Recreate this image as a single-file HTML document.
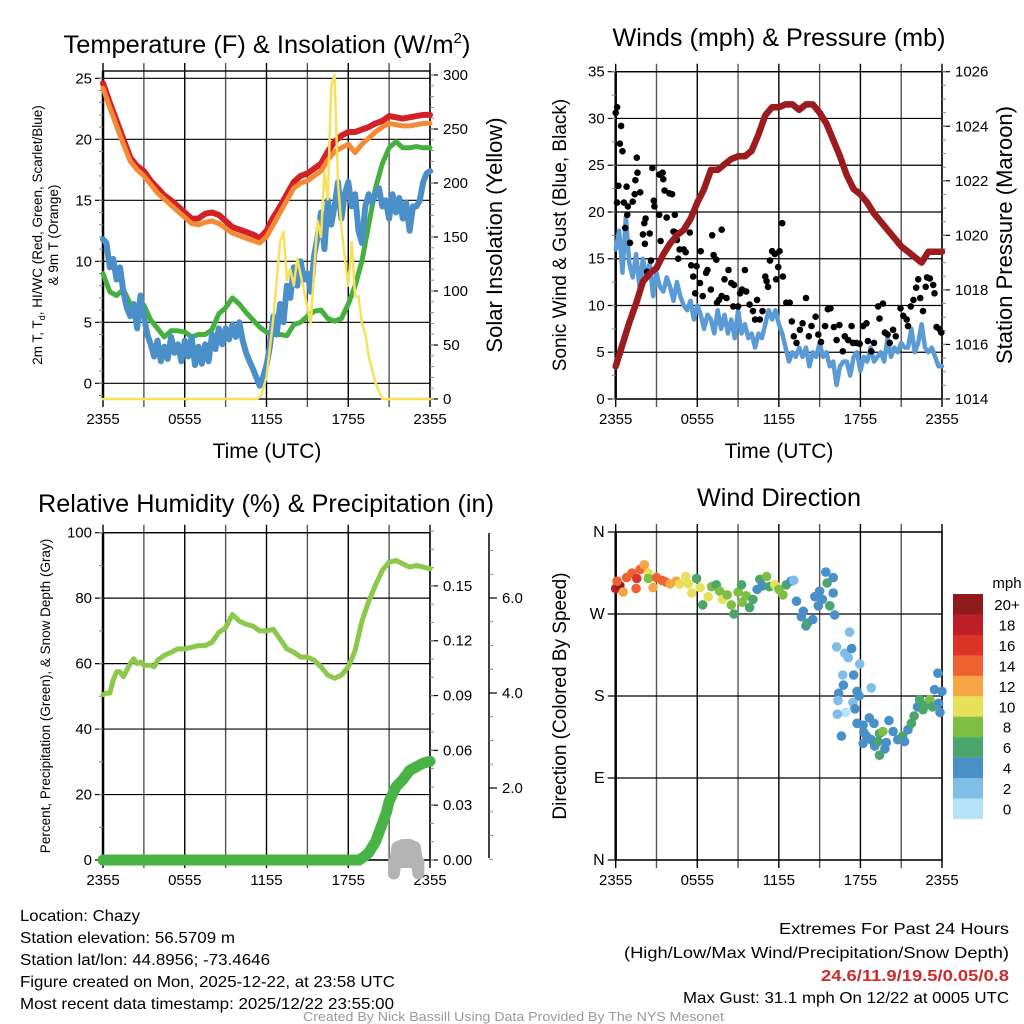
<!DOCTYPE html>
<html><head><meta charset="utf-8"><style>
html,body{margin:0;padding:0;background:#fff;}
svg{display:block;font-family:"Liberation Sans",sans-serif;}
</style></head><body>
<svg id="s" width="1024" height="1024" viewBox="0 0 1024 1024" xmlns="http://www.w3.org/2000/svg">
<g id="g"></g>
<text x="267" y="53" font-size="25" text-anchor="middle" textLength="407" lengthAdjust="spacingAndGlyphs">Temperature (F) &amp; Insolation (W/m<tspan font-size="15" dy="-10">2</tspan><tspan dy="10">)</tspan></text>
<text x="779" y="46" font-size="25" text-anchor="middle" textLength="333" lengthAdjust="spacingAndGlyphs">Winds (mph) &amp; Pressure (mb)</text>
<text x="266" y="512" font-size="25" text-anchor="middle" textLength="456" lengthAdjust="spacingAndGlyphs">Relative Humidity (%) &amp; Precipitation (in)</text>
<text x="779" y="506" font-size="25" text-anchor="middle" textLength="164" lengthAdjust="spacingAndGlyphs">Wind Direction</text>
<text x="267" y="458" font-size="21" text-anchor="middle">Time (UTC)</text>
<text x="779" y="458" font-size="21" text-anchor="middle">Time (UTC)</text>
<text transform="translate(42,235) rotate(-90)" font-size="13.5" text-anchor="middle">2m T, T<tspan font-size="9" dy="3">d</tspan><tspan dy="-3">, HI/WC (Red, Green, Scarlet/Blue)</tspan></text>
<text transform="translate(58,235) rotate(-90)" font-size="13.5" text-anchor="middle">&amp; 9m T (Orange)</text>
<text transform="translate(502,235) rotate(-90)" font-size="22" text-anchor="middle">Solar Insolation (Yellow)</text>
<text transform="translate(566,235) rotate(-90)" font-size="19" text-anchor="middle">Sonic Wind &amp; Gust (Blue, Black)</text>
<text transform="translate(1012,235) rotate(-90)" font-size="22" text-anchor="middle">Station Pressure (Maroon)</text>
<text transform="translate(50,696) rotate(-90)" font-size="13.5" text-anchor="middle">Percent, Precipitation (Green), &amp; Snow Depth (Gray)</text>
<text transform="translate(566,696) rotate(-90)" font-size="19" text-anchor="middle">Direction (Colored By Speed)</text>
<g font-size="16">
<text x="20" y="921" textLength="120" lengthAdjust="spacingAndGlyphs">Location: Chazy</text>
<text x="20" y="943" textLength="215" lengthAdjust="spacingAndGlyphs">Station elevation: 56.5709 m</text>
<text x="20" y="965" textLength="250" lengthAdjust="spacingAndGlyphs">Station lat/lon: 44.8956; -73.4646</text>
<text x="20" y="987" textLength="375" lengthAdjust="spacingAndGlyphs">Figure created on Mon, 2025-12-22, at 23:58 UTC</text>
<text x="20" y="1009" textLength="374" lengthAdjust="spacingAndGlyphs">Most recent data timestamp: 2025/12/22 23:55:00</text>
</g>
<g font-size="16">
<text x="779" y="934" textLength="230" lengthAdjust="spacingAndGlyphs">Extremes For Past 24 Hours</text>
<text x="624" y="958" textLength="385" lengthAdjust="spacingAndGlyphs">(High/Low/Max Wind/Precipitation/Snow Depth)</text>
<text x="821" y="981" font-weight="bold" fill="#d02a2a" textLength="188" lengthAdjust="spacingAndGlyphs">24.6/11.9/19.5/0.05/0.8</text>
<text x="683" y="1003" textLength="326" lengthAdjust="spacingAndGlyphs">Max Gust: 31.1 mph On 12/22 at 0005 UTC</text>
</g>
<text x="303" y="1021" font-size="12.5" fill="#999" textLength="421" lengthAdjust="spacingAndGlyphs">Created By Nick Bassill Using Data Provided By The NYS Mesonet</text>
</svg>
<script>
// ---------- data ----------
const xTickLabels=["2355","0555","1155","1755","2355"];
const tempT=[0,0.5,1,1.5,2,2.5,3,3.5,4,4.5,5,5.5,6,6.5,7,7.5,8,8.5,9,9.5,10,10.5,11,11.5,12,12.5,13,13.5,14,14.5,15,15.5,16,16.5,17,17.5,18,18.5,19,19.5,20,20.5,21,21.5,22,22.5,23,23.5,24];
const tempRed=[24.6,23,21.5,20,18.5,17.8,17.4,16.6,16,15.4,15,14.5,14,13.5,13.5,13.9,14,13.8,13.3,12.8,12.6,12.4,12.2,11.9,12.5,13.6,14.5,15.5,16.5,17,17.2,17.6,18,19,19.8,20.3,20.6,20.6,20.8,21,21.3,21.5,21.9,21.8,21.7,21.8,21.9,22.0,22];
const temp9m=[24.2,22.6,21.1,19.6,18.2,17.5,17.0,16.3,15.6,15.1,14.6,14.1,13.6,13.1,13.0,13.2,13.3,13.1,12.7,12.3,12.1,11.9,11.7,11.5,12.0,13.0,14.0,15.0,16.0,16.4,16.6,17.0,17.4,18.3,19.0,19.3,19.6,18.9,19.6,20.1,20.6,21.0,21.3,21.2,21.1,21.1,21.2,21.3,21.3];
const dewpoint=[9,7.5,7.2,7.7,6.5,5.8,6.4,5.2,4.5,3.8,4.3,4.3,4.2,3.8,4.0,4.0,4.4,5.7,6.2,7.0,6.5,5.8,5.2,4.6,4.2,4.0,4.0,3.9,4.8,5.0,5.5,5.9,6.0,5.3,5.1,5.3,6.5,8.0,10,13,16,18,19.3,19.8,19.3,19.3,19.4,19.3,19.3];
const windChill=[11.8,11.5,9.5,10.2,8.5,9.5,7.5,6.2,5.5,6.5,4.5,7.2,5.5,4.0,3.2,2.2,3.5,1.8,3.0,2.0,3.8,2.5,3.2,1.8,3.5,2.2,3.8,1.5,3.0,1.6,3.2,1.8,4.0,2.8,4.5,3.2,4.5,3.6,4.8,3.8,5.0,3.5,2.5,1.8,1.2,0.5,-0.2,0.5,1.5,3.0,5.5,4.0,6.5,5.0,8.0,7.0,9.5,8.0,10,8.5,9.0,7.5,10.5,12.0,14,11,15,13,14.5,16.5,13.5,15.5,16.5,14.5,15.5,12.5,11.5,14.5,15.5,14.8,15.5,16.0,14.5,15.0,13.5,15.5,14.0,15.2,13.5,14.8,12.5,14.5,14.5,15.0,16.5,17.2,17.4];
const solarT=[0,11.3,11.6,12,12.5,13,13.25,13.5,13.75,14,14.25,14.5,15,15.25,15.5,15.75,16,16.25,16.5,16.75,17,17.25,17.5,17.75,18,18.25,18.5,18.75,19,19.25,19.5,20,20.5,24];
const solarV=[0,0,3,20,75,145,155,110,120,105,130,115,85,70,120,165,150,210,185,290,300,200,160,130,105,145,95,95,70,60,40,15,0,0];
const pressure=[1015.2,1016,1016.8,1017.5,1018.3,1018.6,1018.8,1019.3,1019.7,1020,1020.2,1020.6,1021.2,1021.7,1022.4,1022.4,1022.6,1022.8,1022.9,1022.9,1023.1,1023.7,1024.4,1024.7,1024.7,1024.8,1024.8,1024.6,1024.8,1024.8,1024.5,1024.1,1023.5,1022.9,1022.2,1021.7,1021.5,1021.2,1020.8,1020.5,1020.2,1019.9,1019.6,1019.4,1019.2,1019,1019.4,1019.4,1019.4];
const windSpeed=[16,18,13.5,19.5,14.5,13,15.5,12,15,13,14.5,11,13.5,12,11.5,13,12,10.5,12.5,11,10,9.5,10.5,8.5,10,9,7.5,9,8.5,7,9.5,7.5,9,7,8.5,6.5,9.5,7,8,6.5,7,5.5,7,6.5,8,9.5,8.5,9.5,8,7,5.5,4,5,4.5,5.5,4.5,5.5,3.5,5,4.5,6,4.5,5,3.5,4,1.5,3.5,4,4,2.5,4.5,5,3,4.5,4,5.5,4,4.5,5,4,6.5,4.5,5.5,5,6,5.5,5.5,7.5,5,6,8,5.5,5,5.5,4.5,3.5,3.5];
const gustT=[0,0.1,0.4,0.3,0.5,0.2,0.1,0.6,0.8,0.9,0.85,0.7,1.05,1.25,1.4,1.55,1.6,1.45,1.8,2.1,2.2,2.0,2.15,2.5,2.6,2.3,2.7,2.8,2.85,3.2,3.2,3.45,3.5,3.6,3.95,4.15,4.35,3.75,3.3,4.25,4.4,4.5,4.7,5.0,4.6,5.15,5.45,5.55,5.85,5.7,5.95,6.25,6.2,6.4,6.65,6.75,7,7.1,7.2,7.4,7.45,7.8,7.6,7.8,8.0,8.15,8.3,8.5,8.65,8.7,9.0,9.15,9.3,9.5,9.6,9.85,10.1,10.25,10.4,10.6,10.8,11,11.1,11.2,11.35,11.5,11.7,11.8,11.95,12.05,12.25,12.3,12.55,12.8,12.95,13.1,13.3,13.55,13.75,14,14.2,14.4,14.7,14.9,15.1,15.4,15.6,15.8,16.05,16.25,16.45,16.7,16.85,17.1,17.35,17.45,17.7,17.95,18.2,18.45,18.55,18.8,19,19.3,19.4,19.65,19.8,20,20.15,20.4,20.6,20.95,21.15,21.4,21.5,21.7,21.9,22.1,22.25,22.4,22.6,22.8,22.9,23.1,23.35,23.45,23.6,23.8,23.95];
const gustV=[30.6,31.2,29.2,27.3,26.5,22.8,21,21,22.7,20.6,19.7,18.3,16.7,21.1,21.9,25.8,24.2,23.4,22.1,18.8,19.3,17.6,16.6,17.7,14.8,13.6,24.7,21.2,20.6,19.7,24,24.2,23.5,22.3,22,21.9,19.7,19.4,16.9,17.9,17.8,17,16,16,15,15.7,17.8,14.3,11.3,13.1,14.2,15.8,12.4,11,13.5,13.8,11.7,17.5,15.4,14.9,10.3,18.1,10.6,11,12.8,10.8,13.8,12.4,9.9,12.2,9.9,11.3,11.7,13.8,11.5,10.1,9.4,8.5,10.6,8.5,9.4,13.1,12.6,12,14.8,15.8,15.5,12.8,14.1,15.8,18.8,13.1,10.3,10.3,8.3,6.7,6,7.4,8.1,10.8,6.7,7.8,8.8,6.9,6.1,7.8,9.6,9.7,7.7,6.3,7.9,5.1,6.7,6.3,7.8,6,6,5.9,7.8,8.1,6.2,5.1,6,9.9,8.6,10.2,7.1,6.9,6,7.4,6.7,9.7,8.9,8.5,7.8,9.9,10.6,11.9,12.8,10.8,9.4,12,13,12.9,12.2,11.3,7.7,7.5,7.1];
const rhT=[0,0.25,0.5,0.75,1,1.25,1.5,1.75,2,2.25,2.5,2.75,3,3.5,3.75,4,4.5,5,5.5,6,6.5,7,7.5,8,8.5,9,9.5,10,10.5,11,11.5,12,12.5,13,13.5,14,14.5,15,15.5,16,16.5,17,17.5,18,18.5,19,19.5,20,20.5,21,21.5,22,22.5,23,23.5,24];
const rhV=[50.5,51,51,55,57.5,57.5,56,58,60,61.5,60,60.5,59.5,59.5,59,61,62.5,63.5,64.5,64.5,65,65.5,65.5,66.5,69.5,71,75,73,72,71.5,70,70,70.5,67.5,64.5,63.5,62,62,61,59,56.5,55.5,56.5,59,64,73,79,84,88.5,91,91.5,90.5,89.5,90,89.5,89];
const precipT=[0,18.8,19.2,19.5,20,20.5,20.8,21,21.5,22,22.5,23,23.5,24];
const precipV=[0,0,0.002,0.004,0.01,0.02,0.026,0.032,0.04,0.044,0.049,0.051,0.053,0.054];
const snowT=[21.35,21.6,22.0,22.5,22.9,23.15];
const snowV=[0.2,0.75,0.8,0.8,0.75,0.2];
const dirT=[0,0.3,0.1,0.55,0.8,1.2,1.55,1.5,1.8,2.1,2.4,2.4,2.75,3,3.4,3.7,4.0,4.45,4.7,5.15,5.35,5.6,5.95,6.2,6.4,6.8,7.05,7.4,7.65,7.85,8.2,8.5,8.7,9,9.25,9.3,9.6,9.85,10.1,10.4,10.6,10.8,11.1,11.3,11.7,12.0,12.3,12.55,12.9,13.1,13.3,13.8,13.65,14,14.1,14.5,14.65,14.9,15,15.2,15.45,15.55,15.75,16,16,16.1,16.25,16.85,17.2,17.1,17.35,17.95,16.7,17.5,16.75,16.4,16.35,17.75,17.45,17.9,18.8,16.9,16.3,17.6,17.75,18.2,18.65,19,16.6,18.25,18.45,18.8,18.2,19.05,19.4,19.65,19.3,19.4,19.8,19.9,20.1,20.4,20.75,21.1,21.25,21.5,21.75,21.95,22.2,22.35,22.6,22.8,23.1,23.3,23.45,23.7,23.85,24,23.75];
const dirV=[298,301,306,294,310,315,309,298,319,324,315,309,299,310,307,305,303,306,303,311,303,293,309,299,280,289,300,302,295,286,291,280,270,294,302,283,290,277,286,297,308,301,311,300,302,297,291,302,306,307,284,273,267,257,260,264,289,279,295,286,316,304,279,310,293,269,234,227,250,222,232,215,203,203,192,183,175,185,173,180,189,162,160,166,150,148,156,150,136,140,136,132,128,125,139,141,130,115,122,129,153,141,132,136,130,143,150,158,168,176,165,170,176,168,187,205,162,185,172];
const dirSpd=[18,20,14,12,14,14,17,14,14,12,10,8,12,14,14,14,12,12,10,10,10,10,6,10,6,10,8,6,8,10,8,8,6,8,6,8,8,6,6,4,6,4,8,6,10,8,8,6,4,2,4,4,4,4,6,4,4,4,4,4,4,6,6,4,4,4,2,2,2,2,4,2,2,4,4,4,2,4,2,4,2,0,2,4,4,4,4,4,4,4,4,4,4,4,6,8,6,6,4,4,4,4,4,6,4,4,6,6,4,6,6,6,8,6,4,4,4,4,4];
const speedLabels=["20+","18","16","14","12","10","8","6","4","2","0"];
const speedColors=["#8f1a1c","#be1e26","#dc3528","#ef6230","#f5a546","#e6e05a","#7dbf45","#4aa66a","#4a90c8","#80bde7","#b5e2f7"];

// ---------- helpers ----------
const NS="http://www.w3.org/2000/svg";
const G=document.getElementById('g');
function mk(tag,attrs,parent){const e=document.createElementNS(NS,tag);for(const k in attrs)e.setAttribute(k,attrs[k]);(parent||G).appendChild(e);return e;}
function lin(d0,d1,r0,r1){return v=>r0+(v-d0)/(d1-d0)*(r1-r0);}
const hours=n=>Array.from({length:n},(_,i)=>i*0.25);

function panelFrame(x0,x1,y0,y1,name){
  const g=mk('g',{});
  
  
  const xs=lin(0,24,x0,x1);
  for(let h=0;h<=24;h+=3){
    const x=xs(h);
    mk('line',{x1:x,y1:y0-8,x2:x,y2:y1+8,stroke:(h%6==0?'#000':'#555'),'stroke-width':1.4},g);
  }
  xTickLabels.forEach((lb,i)=>{
    const t=mk('text',{x:xs(i*6),y:y1+25,'font-size':15,'text-anchor':'middle'},g);
    
    
    t.textContent=lb;
  });
  mk('rect',{x:x0,y:y0,width:x1-x0,height:y1-y0,fill:'none',stroke:'#000','stroke-width':1.4},g);
  mk('line',{x1:x0,y1:y0,x2:x0,y2:y1,stroke:'#000','stroke-width':2.5},g);
  return {g,xs};
}
function yAxis(g,x,y,vals,labels,side,minor,xEnd,grid,fs){
  vals.forEach((v,i)=>{
    const yy=y(v);
    if(side==='L'){
      mk('line',{x1:x-8,y1:yy,x2:grid?xEnd:x,y2:yy,stroke:'#000','stroke-width':1.2},g);
      const t=mk('text',{x:x-11,y:yy+5,'font-size':fs||15,'text-anchor':'end'},g);
      
      
      t.textContent=labels[i];
    }else{
      mk('line',{x1:x,y1:yy,x2:x+8,y2:yy,stroke:'#000','stroke-width':1.2},g);
      const t=mk('text',{x:x+13,y:yy+5,'font-size':fs||15,'text-anchor':'start'},g);
      
      
      t.textContent=labels[i];
    }
  });
  minor.forEach(v=>{const yy=y(v);
    if(side==='L')mk('line',{x1:x-4,y1:yy,x2:x,y2:yy,stroke:'#888','stroke-width':1},g);
    else mk('line',{x1:x,y1:yy,x2:x+4,y2:yy,stroke:'#888','stroke-width':1},g);});
}
function range(a,b,s){const r=[];for(let v=a;v<=b+1e-9;v+=s)r.push(+v.toFixed(4));return r;}
function line(ts,vs,xs,ys,color,w,name){
  const d=ts.map((t,i)=>(i?'L':'M')+xs(t).toFixed(1)+','+ys(vs[i]).toFixed(1)).join('');
  const p=mk('path',{d,fill:'none',stroke:color,'stroke-width':w,'stroke-linejoin':'round','stroke-linecap':'round'});
  
  
  return p;
}

// ---------- panel 1 ----------
{
  const P=panelFrame(103,430,71,399,'temp-panel');
  const yL=lin(0,25,383.3,78.3), yR=lin(0,300,399,75);
  yAxis(P.g,103,yL,[0,5,10,15,20,25],["0","5","10","15","20","25"],'L',range(-1,25,1),430,true);
  yAxis(P.g,430,yR,range(0,300,50),range(0,300,50).map(String),'R',range(0,300,10),0,false);
  line(tempT,tempRed,P.xs,yL,'#d42027',6,'temp-2m-line');
  line(tempT,temp9m,P.xs,yL,'#f58a35',5,'temp-9m-line');
  line(tempT,dewpoint,P.xs,yL,'#45b03e',5,'dewpoint-line');
  line(hours(windChill.length),windChill,P.xs,yL,'#4a8fc8',6,'windchill-line');
  line(solarT,solarV,P.xs,yR,'#f7e15a',2.5,'insolation-line');
}
// ---------- panel 2 ----------
{
  const P=panelFrame(615.7,942,71.7,399,'wind-panel');
  const yL=lin(0,35,399,71.7), yR=lin(1014,1026,399,71.7);
  yAxis(P.g,615.7,yL,range(0,35,5),range(0,35,5).map(String),'L',range(0,35,2.5),942,true);
  yAxis(P.g,942,yR,range(1014,1026,2),range(1014,1026,2).map(String),'R',range(1014,1026,0.5),0,false);
  line(hours(windSpeed.length),windSpeed,P.xs,yL,'#5b9bd5',4.5,'wind-speed-line');
  gustT.forEach((t,i)=>{const c=mk('circle',{cx:P.xs(t).toFixed(1),cy:yL(gustV[i]).toFixed(1),r:3.3,fill:'#000'});
    
    });
  line(tempT,pressure,P.xs,yR,'#9b1b1e',6.5,'pressure-line');
}
// ---------- panel 3 ----------
{
  const P=panelFrame(103,430,532.7,860,'rh-panel');
  const yL=lin(0,100,860,532.7), yP=lin(0,0.18,860,531.1), yS=lin(0,2,883,788);
  yAxis(P.g,103,yL,range(0,100,20),range(0,100,20).map(String),'L',range(0,100,10),430,true);
  yAxis(P.g,430,yP,range(0,0.15,0.03),["0.00","0.03","0.06","0.09","0.12","0.15"],'R',range(0,0.18,0.01),0,false);
  mk('line',{x1:489,y1:533,x2:489,y2:858,stroke:'#000','stroke-width':1.5},P.g);
  yAxis(P.g,489,yS,[2,4,6],["2.0","4.0","6.0"],'R',[0.5,1,1.5,2.5,3,3.5,4.5,5,5.5,6.5,7],0,false);
  // snow depth filled area
  const sd=snowT.map((t,i)=>(i?'L':'M')+P.xs(t).toFixed(1)+','+yS(snowV[i]).toFixed(1)).join('')+
    'L'+P.xs(snowT[snowT.length-1]).toFixed(1)+',862L'+P.xs(snowT[0]).toFixed(1)+',862Z';
  const sa=mk('path',{d:sd,fill:'#b4b4b4',stroke:'#b4b4b4','stroke-width':12,'stroke-linejoin':'round'});
  
  
  line(rhT,rhV,P.xs,yL,'#8cc84b',5,'rh-line');
  line(precipT,precipV,P.xs,yP,'#48b445',11,'precip-line');
}
// ---------- panel 4 ----------
{
  const P=panelFrame(615.7,942,532,860,'dir-panel');
  const yD=lin(0,360,860,532);
  yAxis(P.g,615.7,yD,[0,90,180,270,360],["N","E","S","W","N"],'L',[],942,true,16);
  dirT.forEach((t,i)=>{
    const s=dirSpd[i];const idx=Math.max(0,10-Math.min(10,Math.floor(s/2)));
    const c=mk('circle',{cx:P.xs(t).toFixed(1),cy:yD(dirV[i]).toFixed(1),r:4.8,fill:speedColors[idx]});
    
    
  });
  const lg=mk('g',{});
  
  
  const t0=mk('text',{x:1007,y:588,'font-size':15,'text-anchor':'middle'},lg);t0.textContent='mph';
  speedLabels.forEach((lb,i)=>{
    const y=594+i*20.45;
    const r=mk('rect',{x:953,y:y,width:30,height:20.6,fill:speedColors[i]},lg);
    
    
    const t=mk('text',{x:1007,y:y+16,'font-size':15,'text-anchor':'middle'},lg);
    
    
    t.textContent=lb;
  });
}
</script>
</body></html>
